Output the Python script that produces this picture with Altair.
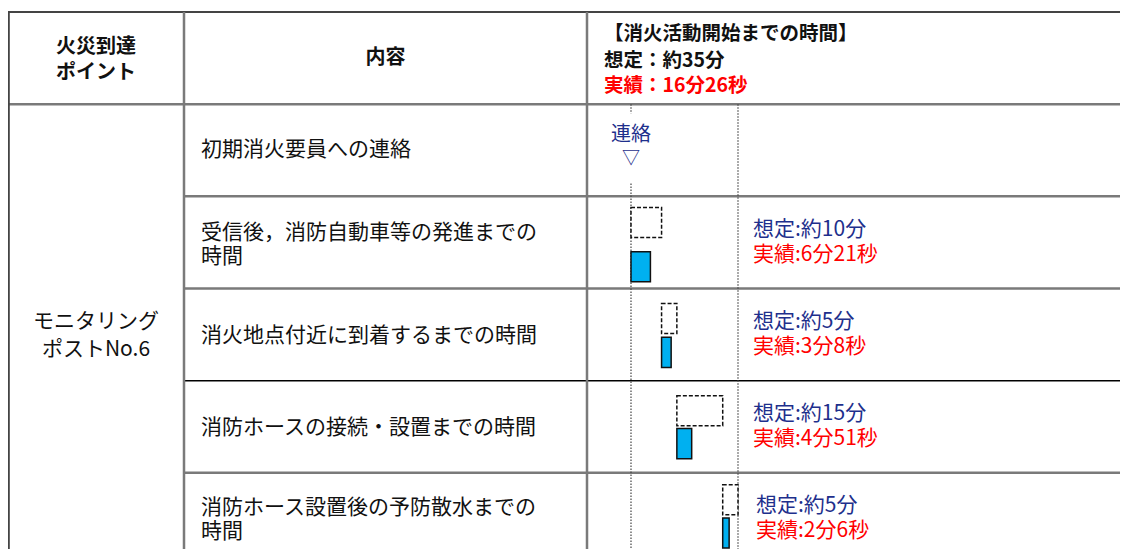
import altair as alt
import pandas as pd

# ---------------- data ----------------
header_point = "火災到達\nポイント"
header_content = "内容"
header_title = "【消火活動開始までの時間】"
total_expected = "想定：約35分"
total_actual = "実績：16分26秒"
point_name = "モニタリング\nポストNo.6"

tasks = [
    "初期消火要員への連絡",
    "受信後，消防自動車等の発進までの\n時間",
    "消火地点付近に到着するまでの時間",
    "消防ホースの接続・設置までの時間",
    "消防ホース設置後の予防散水までの\n時間",
]
contact_label = "連絡"
contact_marker = "▽"
expected_min = [10, 5, 15, 5]                    # steps 2..5 (minutes)
actual_sec = [6 * 60 + 21, 3 * 60 + 8, 4 * 60 + 51, 2 * 60 + 6]
expected_labels = ["想定:約10分", "想定:約5分", "想定:約15分", "想定:約5分"]
actual_labels = ["実績:6分21秒", "実績:3分8秒", "実績:4分51秒", "実績:2分6秒"]

# ---------------- layout (page px / row units) ----------------
FONT = "Noto Sans CJK JP"
NAVY = "#1E2F8C"
RED = "#FF0000"
GRID = "#7a7a7a"

W, H = 1112, 541
xpx = alt.Scale(domain=[8, 8 + W], range=[0, W])
yrow = alt.Scale(domain=[0, 6], range=[4, 557])
total = sum(expected_min)
xmin = alt.Scale(domain=[0, total], range=[623, 730])

X = lambda f: alt.X(f, scale=xpx, axis=None)
Y = lambda f: alt.Y(f, scale=yrow, axis=None)
XM = lambda f: alt.X(f, scale=xmin, axis=None)

# grid lines
hl = pd.DataFrame({
    "y": [0, 1, 2, 3, 4, 5],
    "x": [8, 8, 184, 184, 184, 184],
    "x2": [1128] * 6,
    "c": ["#444444", GRID, GRID, GRID, "#000000", GRID],
    "w": [2, 2.5, 2.5, 2.5, 1.5, 2.5],
})
vl = pd.DataFrame({"x": [8.8, 184, 587], "y": [0, 0, 0], "y2": [6, 6, 6],
                   "c": ["#444444", GRID, GRID], "w": [2, 2.5, 2.5]})

hrules = alt.Chart(hl).mark_rule().encode(
    x=X("x:Q"), x2="x2:Q", y=Y("y:Q"),
    color=alt.Color("c:N", scale=None), strokeWidth=alt.StrokeWidth("w:Q", scale=None))
vrules = alt.Chart(vl).mark_rule().encode(
    x=X("x:Q"), y=Y("y:Q"), y2="y2:Q",
    color=alt.Color("c:N", scale=None), strokeWidth=alt.StrokeWidth("w:Q", scale=None))

# dotted timeline guides (start and total expected)
guides = pd.DataFrame({"m": [0, 0, total], "y": [1, 1.86, 1], "y2": [1.1, 6, 6]})
grules = alt.Chart(guides).mark_rule(color="#444444", strokeWidth=1.2, strokeDash=[1.5, 1.5]).encode(
    x=XM("m:Q"), y=Y("y:Q"), y2="y2:Q")

# bars (vertical placement inside each row)
exp_top = [0.12, 0.163, 0.163, 0.13]
act_top = [0.6, 0.53, 0.52, 0.49]
bar_h = 0.326
rows = []
start = 0
for i, (e, a) in enumerate(zip(expected_min, actual_sec)):
    r = i + 2
    rows.append({"kind": "exp", "s": start, "e": start + e,
                 "y": r + exp_top[i], "y2": r + exp_top[i] + bar_h})
    rows.append({"kind": "act", "s": start, "e": start + a / 60,
                 "y": r + act_top[i], "y2": r + act_top[i] + bar_h})
    start += e
bars = pd.DataFrame(rows)
exp_rect = alt.Chart(bars).transform_filter("datum.kind == 'exp'").mark_rect(
    fill="white", stroke="#111111", strokeWidth=1.5, strokeDash=[4, 2]).encode(
    x=XM("s:Q"), x2="e:Q", y=Y("y:Q"), y2="y2:Q")
act_rect = alt.Chart(bars).transform_filter("datum.kind == 'act'").mark_rect(
    fill="#00B0F0", stroke="#111111", strokeWidth=1.5).encode(
    x=XM("s:Q"), x2="e:Q", y=Y("y:Q"), y2="y2:Q")

# texts (y of multi-line texts is the first line)
def txt(df, **kw):
    base = dict(font=FONT, baseline="middle", lineBreak="\n")
    base.update(kw)
    return alt.Chart(df).mark_text(**base).encode(x=X("x:Q"), y=Y("y:Q"), text="t:N")

hdr = pd.DataFrame({"x": [96, 385.5], "y": [0.38, 0.5], "t": [header_point, header_content]})
hdr_t = txt(hdr, align="center", fontSize=20, fontWeight="bold", lineHeight=26, color="#111111")

tt = pd.DataFrame({"x": [604, 604], "y": [0.24, 0.53], "t": [header_title, total_expected]})
tt_t = txt(tt, align="left", fontSize=19.5, fontWeight="bold", color="#111111")
ta = pd.DataFrame({"x": [604], "y": [0.80], "t": [total_actual]})
ta_t = txt(ta, align="left", fontSize=19.5, fontWeight="bold", color=RED)

task_df = pd.DataFrame({"x": [201] * 5, "y": [1.5, 2.4, 3.52, 4.51, 5.38], "t": tasks})
task_t = txt(task_df, align="left", fontSize=21, lineHeight=24, color="#111111")

pt = pd.DataFrame({"x": [96], "y": [3.365], "t": [point_name]})
pt_t = txt(pt, align="center", fontSize=21, lineHeight=28, color="#111111")

el = pd.DataFrame({"x": [753, 753, 753, 756], "y": [r + 0.365 for r in range(2, 6)], "t": expected_labels})
el_t = txt(el, align="left", fontSize=21, color=NAVY)
al = pd.DataFrame({"x": [753, 753, 753, 756], "y": [r + 0.635 for r in range(2, 6)], "t": actual_labels})
al_t = txt(al, align="left", fontSize=21, color=RED)

contact = pd.DataFrame({"m": [0, 0], "y": [1.335, 1.6], "t": [contact_label, contact_marker],
                        "fs": [20, 18]})
contact_t = alt.Chart(contact).mark_text(font=FONT, baseline="middle", align="center", color=NAVY).encode(
    x=XM("m:Q"), y=Y("y:Q"), text="t:N", size=alt.Size("fs:Q", scale=None))

chart = alt.layer(
    hrules, vrules, grules, exp_rect, act_rect,
    hdr_t, tt_t, ta_t, task_t, pt_t, el_t, al_t, contact_t,
).resolve_scale(x="independent").properties(
    width=W, height=H, padding=0, autosize="none", background="white"
).configure_view(stroke=None)

chart.save("out.html", embed_options={"renderer": "svg", "actions": False})
